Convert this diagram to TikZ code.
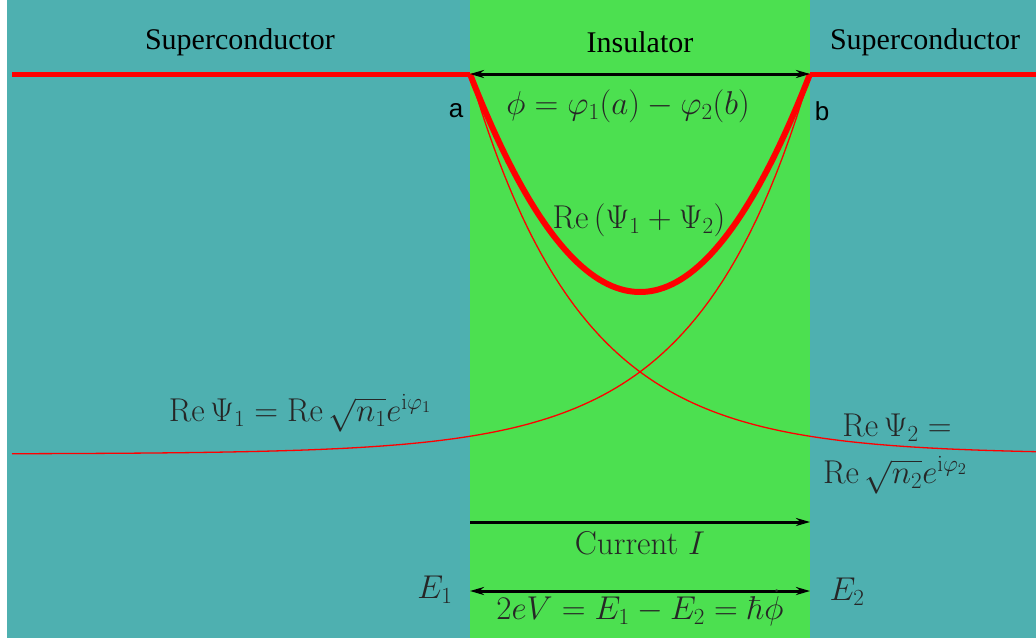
\documentclass[tikz,border=0pt]{standalone}
\usepackage{fix-cm}
\usepackage[no-math]{fontspec}
\newfontfamily\headfont{Liberation Serif}
\newfontfamily\pointfont{Liberation Sans}
\usetikzlibrary{arrows.meta, positioning}
\definecolor{scteal}{RGB}{78,176,176}
\definecolor{insgreen}{RGB}{76,224,80}
\definecolor{txtgray}{RGB}{38,38,38}

\begin{document}
\begin{tikzpicture}[x=1pt, y=-1pt,
  heading/.style={font=\headfont\fontsize{30}{36}\selectfont, text=black},
  mathlabel/.style={font=\fontsize{33}{39}\selectfont, text=txtgray},
  pointlabel/.style={font=\pointfont\fontsize{26}{30}\selectfont, text=black},
  edge/.style={red, line width=5pt},
  wave/.style={red, line width=1.3pt},
  sumwave/.style={red, line width=6pt},
  arr/.style={line width=3pt}
]
% Regions
\useasboundingbox (0,0) rectangle (1036,638);
\fill[scteal] (7,0) rectangle (1036,638);
\fill[insgreen] (470,0) rectangle (810,638);

% Junction points
\coordinate (left) at (12,74);
\coordinate (a) at (470,74);
\coordinate (b) at (810,74);
\coordinate (right) at (1036,74);
\coordinate (ia) at (470,522);
\coordinate (ib) at (810,522);
\coordinate (ea) at (470,591);
\coordinate (eb) at (810,591);

% Headings
\node[heading] (scl) at (240,42) {Superconductor};
\node[heading] (ins) at (640,42) {Insulator};
\node[heading] (scr) at (925,42) {Superconductor};

% Wave functions
\draw[edge] (left) -- (a);
\draw[edge] (b) -- (right);
\draw[wave] plot[domain=12:810, samples=120] ({\x},{454-380*exp((\x-810)/111)});
\draw[wave] plot[domain=470:1036, samples=120] ({\x},{454-380*exp((470-\x)/111)});
\draw[sumwave] plot[domain=470:810, samples=80] ({\x},{292-218*((\x-640)/170)^2});

% Phase difference
\draw[arr, {Stealth[length=14pt, width=8pt]}-{Stealth[length=14pt, width=8pt, fill=white]}] (a) -- (b);
\node[pointlabel] (la) at (456,111) {a};
\node[pointlabel] (lb) at (822,111) {b};
\node[mathlabel] (phase) at (628,106) {$\phi=\varphi_1(a)-\varphi_2(b)$};
\node[mathlabel] (sum) at (639,220) {$\mathrm{Re}\,(\Psi_1+\Psi_2)$};
\node[mathlabel] (psione) at (300,413) {$\mathrm{Re}\,\Psi_1=\mathrm{Re}\,\sqrt{n_1}e^{\mathrm{i}\varphi_1}$};
\node[mathlabel] (psitwo) at (897,428) {$\mathrm{Re}\,\Psi_2=$};
\node[mathlabel] (psitwob) at (895,475) {$\mathrm{Re}\,\sqrt{n_2}e^{\mathrm{i}\varphi_2}$};

% Current and voltage
\draw[arr, -{Stealth[length=14pt, width=8pt, fill=white]}] (ia) -- (ib);
\node[mathlabel] (cur) at (640,543) {Current $I$};
\draw[arr, {Stealth[length=14pt, width=8pt, fill=white]}-{Stealth[length=14pt, width=8pt]}] (ea) -- (eb);
\node[mathlabel] (eone) at (435,590) {$E_1$};
\node[mathlabel] (etwo) at (847,592) {$E_2$};
\node[mathlabel] (volt) at (640,608) {$2eV=E_1-E_2=\hbar\dot{\phi}$};
\end{tikzpicture}
\end{document}
